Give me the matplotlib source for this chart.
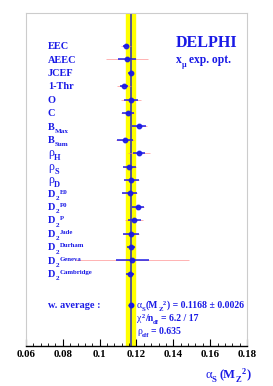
import numpy as np
from matplotlib import pyplot as plt
from matplotlib.transforms import IdentityTransform

plt.rcParams['font.family'] = ['Liberation Serif', 'DejaVu Serif']

# observables (od góry do dołu): (główny tekst, indeks dolny, indeks górny)
names = ['EEC', 'AEEC', 'JCEF', '1-Thr', 'O', 'C', 'B', 'B', 'ρ', 'ρ', 'ρ',
         'D', 'D', 'D', 'D', 'D', 'D', 'D']
subs = ['', '', '', '', '', '', 'Max', 'Sum', 'H', 'S', 'D',
        '2', '2', '2', '2', '2', '2', '2']
sups = ['', '', '', '', '', '', '', '', '', '', '',
        'E0', 'P0', 'P', 'Jade', 'Durham', 'Geneva', 'Cambridge']
values = [0.1143, 0.1148, 0.1168, 0.1132, 0.1170, 0.1152, 0.1215, 0.1138, 0.1213,
          0.1161, 0.1172, 0.1163, 0.1210, 0.1188, 0.1170, 0.1170, 0.1177, 0.1165]
err_exp = [0.0018, 0.0048, 0.0012, 0.0023, 0.0040, 0.0033, 0.0039, 0.0044, 0.0032,
           0.0036, 0.0040, 0.0040, 0.0032, 0.0034, 0.0043, 0.0023, 0.0090, 0.0023]
err_tot = [0.0028, 0.0112, 0.0013, 0.0038, 0.0055, 0.0036, 0.0040, 0.0050, 0.0060,
           0.0037, 0.0041, 0.0041, 0.0033, 0.0048, 0.0044, 0.0024, 0.0310, 0.0024]

avg = 0.1168
avg_err = 0.0026
avg_bar = 0.0015
chi2_text = '6.2 / 17'
rho_eff = '0.635'

blue = '#1a1ae6'
H = 386  # wysokość obrazka w pikselach


""" tekst w stylu ROOT: kawałki (tekst, rodzaj, przerwa przed, grubość) kładzione jeden po drugim """
def rich_text(fig, x, y_img, parts, size, color=blue):
    renderer = fig.canvas.get_renderer()
    y0 = H - y_img
    for txt, kind, gap, weight in parts:
        x += gap
        if kind == 'sub':
            fs, dy = size * 0.7, -size * 0.33 * 1.389
        elif kind == 'sup':
            fs, dy = size * 0.66, size * 0.3 * 1.389
        else:
            fs, dy = size, 0
        t = fig.text(x, y0 + dy, txt, transform=IdentityTransform(), fontsize=fs,
                     fontweight=weight, color=color, va='baseline', ha='left')
        x = t.get_window_extent(renderer).x1
    return x


def main():
    fig = plt.figure(figsize=(2.73, 3.86), dpi=100)
    ax = fig.add_axes([26 / 273, 40 / 386, 221 / 273, 333 / 386])

    n = len(values)
    y = np.arange(n)
    y_avg = 19.3

    ax.axvspan(avg - avg_err, avg + avg_err, color='#ffff00', zorder=1)
    ax.axvline(avg, color='#3a3ab0', lw=1.2, zorder=2)

    # błędy całkowite (czerwone) i eksperymentalne (niebieskie)
    ax.errorbar(values, y, xerr=err_tot, fmt='none', ecolor='#ff8080', elinewidth=0.6,
                alpha=0.7, capsize=0, zorder=3)
    ax.errorbar(values, y, xerr=err_exp, fmt='o', color=blue, ecolor=blue, elinewidth=1.2,
                markersize=3.2, capsize=0, alpha=0.9, zorder=4)
    ax.errorbar([avg], [y_avg], xerr=[avg_bar], fmt='o', color=blue, ecolor=blue,
                elinewidth=1.0, markersize=3.2, capsize=0, zorder=4)

    ax.set_xlim(0.06, 0.18)
    ax.set_ylim(22.39, -2.46)

    ax.set_yticks([])
    ax.set_xticks(np.arange(0.06, 0.181, 0.02))
    ax.set_xticklabels(['0.06', '0.08', '0.1', '0.12', '0.14', '0.16', '0.18'],
                       fontsize=7.8, fontweight='bold')
    ax.set_xticks(np.arange(0.06, 0.1801, 0.004), minor=True)
    ax.tick_params(axis='x', which='major', direction='in', length=5, width=0.8, pad=3,
                   top=False)
    ax.tick_params(axis='x', which='minor', direction='in', length=2.5, width=0.6, top=False)
    ax.tick_params(axis='y', which='both', left=False, right=False)

    for side in ['left', 'right', 'top']:
        ax.spines[side].set_color('#cccccc')
        ax.spines[side].set_linewidth(0.8)
    ax.spines['bottom'].set_color('black')
    ax.spines['bottom'].set_linewidth(1.0)

    # etykiety obserwabli
    for i in range(n):
        row_img = H - ax.transData.transform((0.1, i))[1]
        w = 'normal' if names[i] == 'ρ' else 'bold'
        size = 8.6 if names[i] == 'ρ' else 7.4
        parts = [(names[i], 'n', 0, w)]
        if subs[i]:
            parts.append((subs[i], 'sub', 0.3, 'bold'))
        if sups[i]:
            parts.append((sups[i], 'sup', 0.3, 'bold'))
        rich_text(fig, 48, row_img + 3.3, parts, size)

    avg_img = H - ax.transData.transform((0.1, y_avg))[1]
    rich_text(fig, 48, avg_img + 3, [('w. average :', 'n', 0, 'bold')], 7.4)

    rich_text(fig, 137, avg_img + 3.2,
              [('α', 'n', 0, 'normal'), ('S', 'sub', 0, 'bold'), ('(M', 'n', 0, 'bold'),
               ('Z', 'sub', 0, 'bold'), ('2', 'sup', 0.5, 'bold'),
               (') = %.4f ± %.4f' % (avg, avg_err), 'n', 0.5, 'bold')], 7.0)
    rich_text(fig, 137, avg_img + 16.6,
              [('χ', 'n', 0, 'normal'), ('2', 'sup', 0.3, 'bold'), ('/n', 'n', 0, 'bold'),
               ('df', 'sub', 0, 'bold'), ('= ' + chi2_text, 'n', 2, 'bold')], 7.0)
    rich_text(fig, 137, avg_img + 29.6,
              [('ρ', 'n', 0, 'normal'), ('eff', 'sub', 0, 'bold'),
               ('= ' + rho_eff, 'n', 2, 'bold')], 7.0)

    rich_text(fig, 176, 47, [('DELPHI', 'n', 0, 'bold')], 11.5)
    rich_text(fig, 176, 63, [('x', 'n', 0, 'bold'), ('μ', 'sub', 0, 'bold'),
                             ('exp. opt.', 'n', 2.5, 'bold')], 8.3)

    # podpis osi x
    rich_text(fig, 205, 378, [('α', 'n', 0, 'normal'), ('S', 'sub', 0, 'bold'),
                              ('(M', 'n', 3, 'bold'), ('Z', 'sub', 0, 'bold'),
                              ('2', 'sup', 0.5, 'bold'), (')', 'n', 0.5, 'bold')], 9)

    plt.savefig('out.png', dpi=100)


if __name__ == '__main__':
    main()
